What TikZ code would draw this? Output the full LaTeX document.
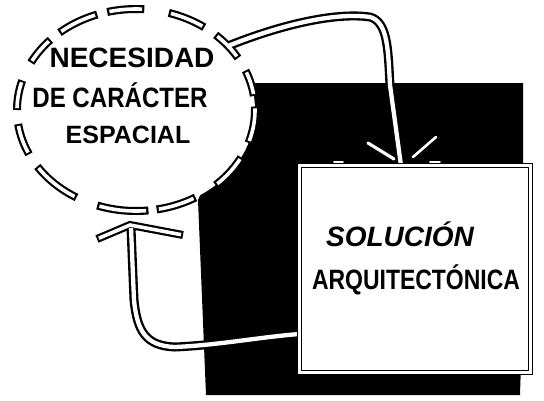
\documentclass[tikz,border=0pt]{standalone}
\usepackage{fontspec}
\setmainfont{Liberation Sans}
\usetikzlibrary{shapes.geometric}
\tikzset{
  dashout/.style={line width=8pt, black},
  dashin/.style={line width=3.6pt, white},
  tubeout/.style={line width=9pt, black},
  tubein/.style={line width=4.3pt, white},
  boxline/.style={draw=black, line width=1.5pt, double=white, double distance=2.4pt, fill=white},
  spray/.style={white, line width=2.6pt, line cap=round},
  lettering/.style={font=\fontsize{28}{30}\bfseries, inner sep=0pt, anchor=base}
}
\begin{document}
\begin{tikzpicture}[x=1pt, y=-1pt]
\useasboundingbox (0,0) rectangle (544,400);
% black shadow mass
\fill[black] (250,83) -- (523,83) -- (523,300) -- (520,395) -- (206,395) -- (198,200) -- cycle;
% nodes (placement)
\node[ellipse, fill=white, minimum width=238pt, minimum height=202pt, inner sep=0pt] (nec) at (136,110) {};
\path node[rectangle, minimum width=231pt, minimum height=207pt, inner sep=0pt, outer sep=0pt] (sol) at (415,269) {};
\coordinate (ta) at (228,46);
\coordinate (tb) at (131,228);
% dash outlines
\foreach \a/\b in {-104/-86, -74/-55, -48/-31, -23/-8, -2/19, 28/48, 60/80, 84/109, 120/146, 154/172, 180/197, 208/224, 230/251}{
  \draw[dashout] plot[domain=\a:\b, samples=14] ({136+119*cos(\x)},{110+101*sin(\x)});
}
\draw[dashout] (97,239) -- (130,225) -- (183,235);
% tube outlines
\draw[tubeout] (ta) .. controls (280,25) and (335,12) .. (370,17) .. controls (388,22) and (388,50) .. (390,85) -- ([xshift=-14pt]sol.north);
\draw[tubeout] (tb) -- (134,300) .. controls (137,330) and (145,346) .. (175,347) .. controls (220,345) and (260,337) .. ([yshift=-65pt]sol.west);
% dash insides
\foreach \a/\b in {-104/-86, -74/-55, -48/-31, -23/-8, -2/19, 28/48, 60/80, 84/109, 120/146, 154/172, 180/197, 208/224, 230/251}{
  \pgfmathsetmacro\aa{\a+1.1}
  \pgfmathsetmacro\bb{\b-1.1}
  \draw[dashin] plot[domain=\aa:\bb, samples=14] ({136+119*cos(\x)},{110+101*sin(\x)});
}
\draw[dashin, shorten <=2pt, shorten >=2pt] (97,239) -- (130,225) -- (183,235);
% tube insides
\draw[tubein] (ta) .. controls (280,25) and (335,12) .. (370,17) .. controls (388,22) and (388,50) .. (390,85) -- ([xshift=-14pt]sol.north);
\draw[tubein] (tb) -- (134,300) .. controls (137,330) and (145,346) .. (175,347) .. controls (220,345) and (260,337) .. ([yshift=-65pt]sol.west);
% impact marks
\draw[spray, line width=3.2pt] (368,143) -- (394,159);
\draw[spray] (436,137) -- (413,157);
\draw[spray, line width=1.8pt] (334,162) -- (343,162);
\draw[spray, line width=1.8pt] (430,162) -- (440,162);
% box
\draw[boxline] (sol.south west) rectangle (sol.north east);
% lettering
\node[lettering] (l1) at (132,67) {NECESIDAD};
\node[lettering] (l2) at (120,107) {\scalebox{0.86}[1]{DE CARÁCTER}};
\node[lettering, font=\fontsize{25}{27}\bfseries] (l3) at (128,143) {ESPACIAL};
\node[lettering, font=\fontsize{28}{30}\bfseries\itshape] (s1) at (400,246) {SOLUCIÓN};
\node[lettering] (s2) at (416,289) {\scalebox{0.82}[1]{ARQUITECTÓNICA}};
\end{tikzpicture}
\end{document}
